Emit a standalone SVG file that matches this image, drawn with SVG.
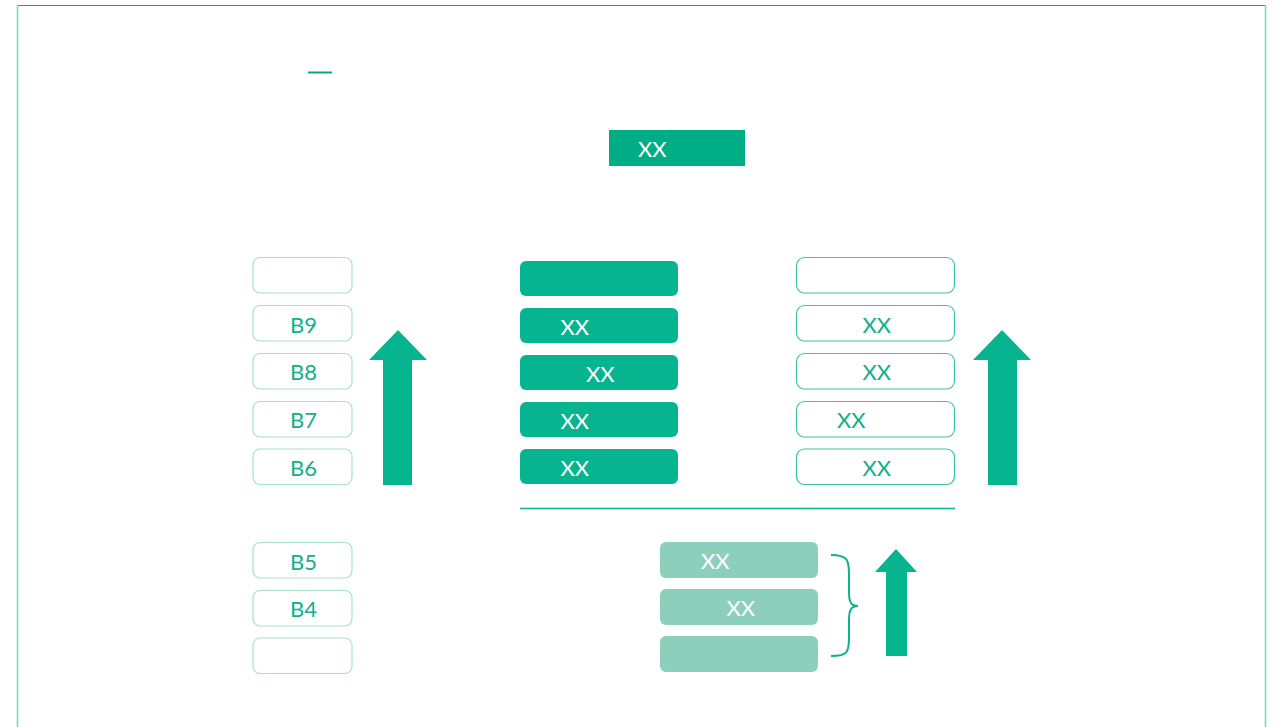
<svg xmlns="http://www.w3.org/2000/svg" width="1283" height="727" viewBox="0 0 1283 727">
<style>
.t{font-family:Lato,"Liberation Sans",sans-serif;font-size:22px}
.w{fill:#ffffff}
.g{fill:#10b08a}
.lb{fill:#ffffff;stroke:#a9dfcc;stroke-width:1.2}
.mb{fill:#06b48f}
.rb{fill:#ffffff;stroke:#3cc4a0;stroke-width:1.2}
.bb{fill:#8ccfbb}
.ar{fill:#06b48f}
</style>
<rect width="1283" height="727" fill="#ffffff"/>
<g id="frame">
<line x1="17.5" y1="5.5" x2="1265.5" y2="5.5" stroke="#1aa37a" stroke-width="1.2"/>
<line x1="17.5" y1="5" x2="17.5" y2="727" stroke="#7fd8c4" stroke-width="1.6"/>
<line x1="1265.5" y1="5" x2="1265.5" y2="727" stroke="#7fd8c4" stroke-width="1.6"/>
</g>
<line x1="308" y1="72.5" x2="332" y2="72.5" stroke="#0aa57f" stroke-width="2"/>
<g id="top">
<rect x="609" y="130" width="136" height="36" fill="#00ad84"/>
<text class="t w" x="638" y="156.5">XX</text>
</g>
<g id="left">
<g id="L10"><rect class="lb" x="253" y="257.5" width="99" height="35.5" rx="7"/></g>
<g id="L9"><rect class="lb" x="253" y="305.5" width="99" height="35.5" rx="7"/><text class="t g" x="303.5" y="332.5" text-anchor="middle">B9</text></g>
<g id="L8"><rect class="lb" x="253" y="353.5" width="99" height="35.5" rx="7"/><text class="t g" x="303.5" y="380" text-anchor="middle">B8</text></g>
<g id="L7"><rect class="lb" x="253" y="401.5" width="99" height="35.5" rx="7"/><text class="t g" x="303.5" y="427.5" text-anchor="middle">B7</text></g>
<g id="L6"><rect class="lb" x="253" y="449" width="99" height="35.5" rx="7"/><text class="t g" x="303.5" y="475.5" text-anchor="middle">B6</text></g>
<g id="L5"><rect class="lb" x="253" y="542.5" width="99" height="35.5" rx="7"/><text class="t g" x="303.5" y="569.5" text-anchor="middle">B5</text></g>
<g id="L4"><rect class="lb" x="253" y="590.5" width="99" height="35.5" rx="7"/><text class="t g" x="303.5" y="616.5" text-anchor="middle">B4</text></g>
<g id="L3"><rect class="lb" x="253" y="638" width="99" height="35.5" rx="7"/></g>
</g>
<g id="middle">
<g id="M1"><rect class="mb" x="520" y="261" width="158" height="35" rx="6"/></g>
<g id="M2"><rect class="mb" x="520" y="308" width="158" height="35" rx="6"/><text class="t w" x="560.5" y="334.5">XX</text></g>
<g id="M3"><rect class="mb" x="520" y="355" width="158" height="35" rx="6"/><text class="t w" x="586" y="381.5">XX</text></g>
<g id="M4"><rect class="mb" x="520" y="402" width="158" height="35" rx="6"/><text class="t w" x="560.5" y="428.5">XX</text></g>
<g id="M5"><rect class="mb" x="520" y="449" width="158" height="35" rx="6"/><text class="t w" x="560.5" y="475.5">XX</text></g>
</g>
<g id="right">
<g id="R1"><rect class="rb" x="796.5" y="257.5" width="158" height="35.5" rx="8"/></g>
<g id="R2"><rect class="rb" x="796.5" y="305.5" width="158" height="35.5" rx="8"/><text class="t g" x="862.5" y="332.5">XX</text></g>
<g id="R3"><rect class="rb" x="796.5" y="353.5" width="158" height="35.5" rx="8"/><text class="t g" x="862.5" y="380">XX</text></g>
<g id="R4"><rect class="rb" x="796.5" y="401.5" width="158" height="35.5" rx="8"/><text class="t g" x="837" y="427.5">XX</text></g>
<g id="R5"><rect class="rb" x="796.5" y="449" width="158" height="35.5" rx="8"/><text class="t g" x="862.5" y="475.5">XX</text></g>
</g>
<g id="bottom">
<g id="S1"><rect class="bb" x="660" y="542" width="158" height="36" rx="6"/><text class="t w" x="701" y="568.5">XX</text></g>
<g id="S2"><rect class="bb" x="660" y="589" width="158" height="36" rx="6"/><text class="t w" x="726.5" y="615.5">XX</text></g>
<g id="S3"><rect class="bb" x="660" y="636" width="158" height="36" rx="6"/></g>
</g>
<g id="connectors">
<line x1="520" y1="508.5" x2="955" y2="508.5" stroke="#10b08a" stroke-width="1.3"/>
<path d="M831 555 C848 555 849 560 849 575 L849 592 C849 602 851 606 858 606 C851 606 849 610 849 620 L849 637 C849 652 848 656 831 656" fill="none" stroke="#10b08a" stroke-width="2"/>
<path class="ar" d="M383 485 L383 360 L369 360 L398 330 L427 360 L412 360 L412 485 Z"/>
<path class="ar" d="M988 485 L988 360 L973 360 L1002 330 L1031 360 L1017 360 L1017 485 Z"/>
<path class="ar" d="M886 656 L886 572 L875 572 L896 549 L917 572 L907 572 L907 656 Z"/>
</g>
</svg>
